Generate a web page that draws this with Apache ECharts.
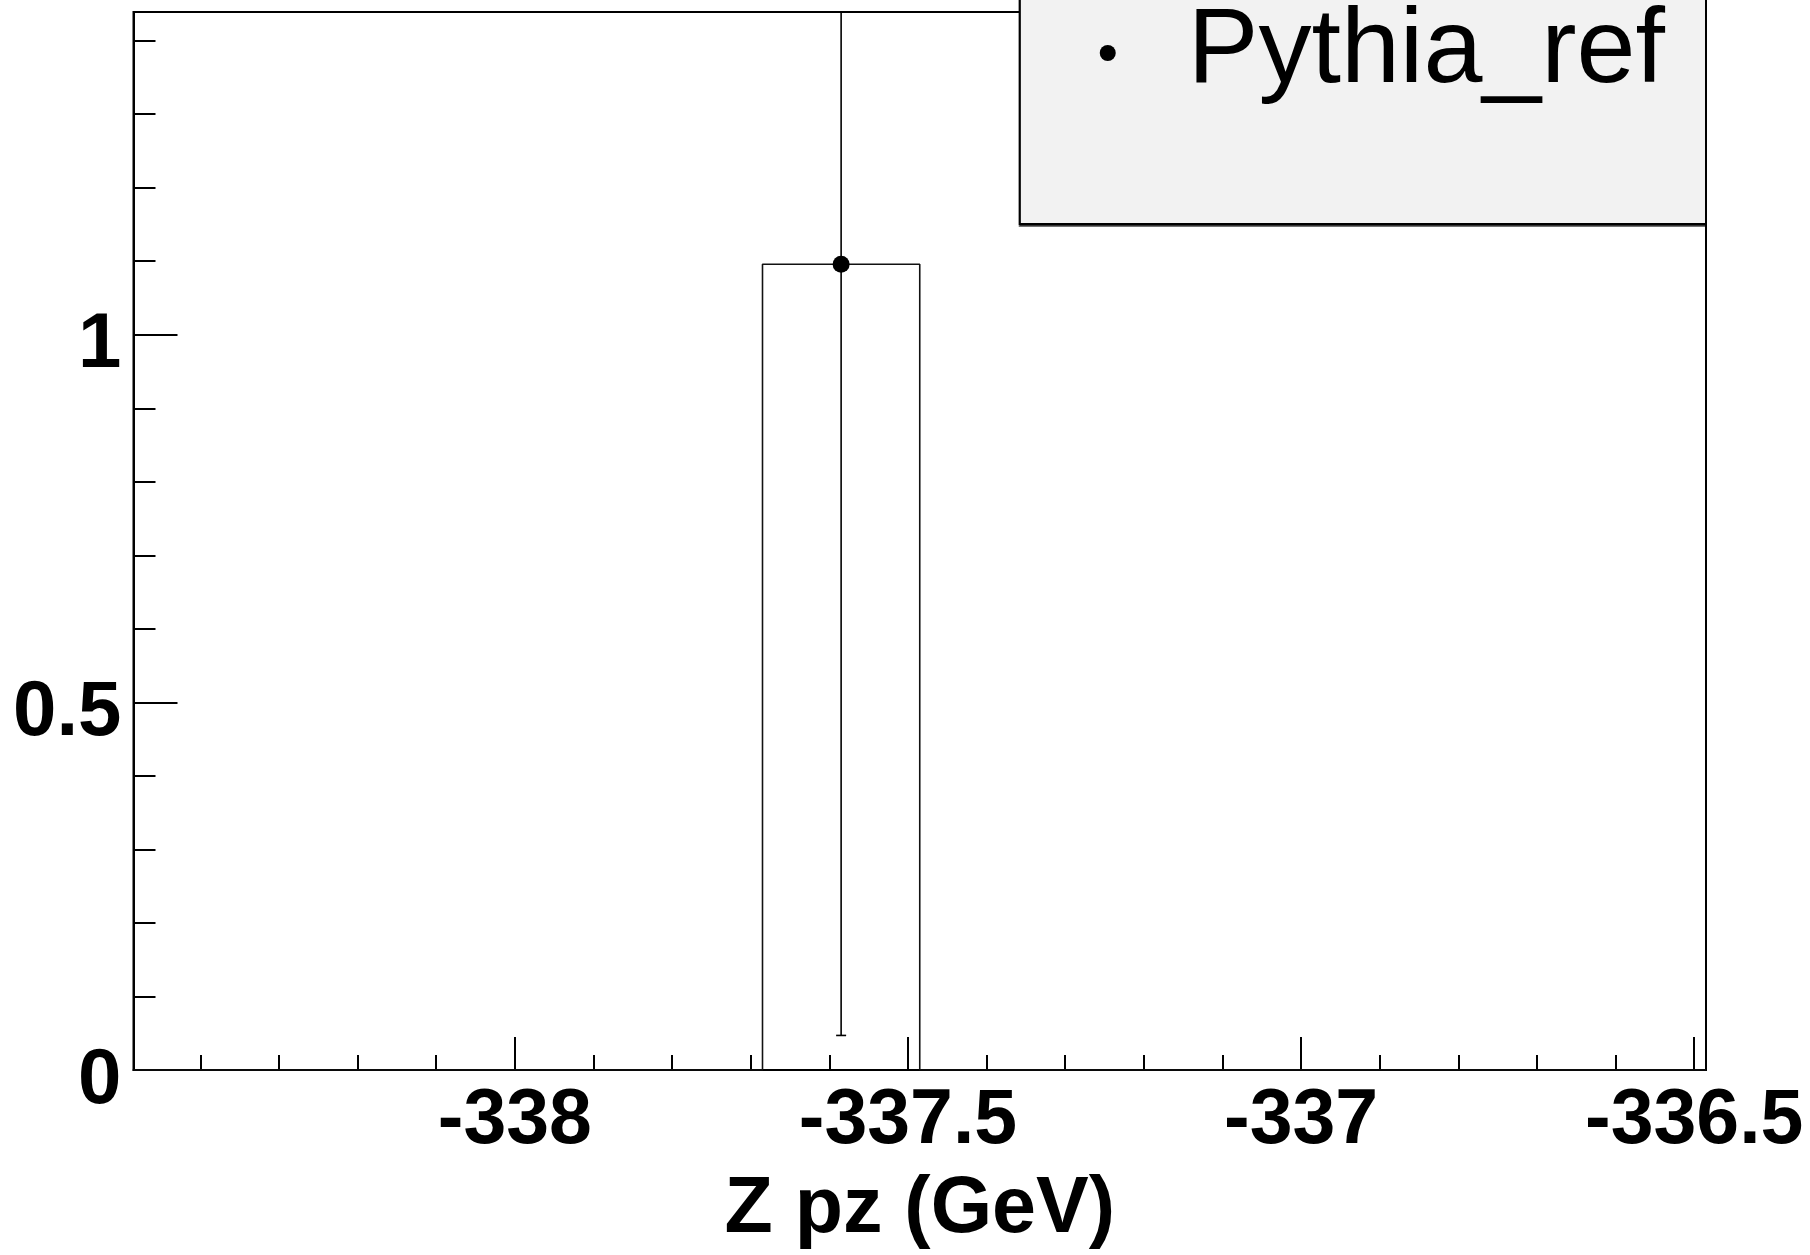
<!DOCTYPE html>
<html>
<head>
<meta charset="utf-8">
<script src="https://cdn.jsdelivr.net/npm/echarts@6/dist/echarts.min.js"></script>
<style>
html,body{margin:0;padding:0;background:#fff;}
#chart{width:1810px;height:1255px;}
</style>
</head>
<body>
<div id="chart"></div>
<script>
// Histogram bin edges (GeV) and contents
const binEdges = [-338.485, -338.285, -338.085, -337.885, -337.685, -337.485, -337.285, -337.085, -336.885, -336.685, -336.485];
const binCounts = [0, 0, 0, 0, 1.096, 0, 0, 0, 0, 0];
const binErrors = [0, 0, 0, 0, 1.049, 0, 0, 0, 0, 0];
const seriesName = 'Pythia_ref';
const xTitle = 'Z pz (GeV)';
const xMajorTicks = [-338, -337.5, -337, -336.5];
const xMinorTicks = [-338.4, -338.3, -338.2, -338.1, -338, -337.9, -337.8, -337.7, -337.6, -337.5, -337.4, -337.3, -337.2, -337.1, -337, -336.9, -336.8, -336.7, -336.6, -336.5];
const yMajorTicks = [0, 0.5, 1];
const yMinorTicks = [0.1, 0.2, 0.3, 0.4, 0.5, 0.6, 0.7, 0.8, 0.9, 1, 1.1, 1.2, 1.3, 1.4];
const xMin = -338.485, xMax = -336.485, yMin = 0, yMax = 1.439;

// build histogram outline and point data from arrays
const outline = [];
const points = [];
for (let i = 0; i < binCounts.length; i++) {
  outline.push([binEdges[i], binCounts[i]]);
  outline.push([binEdges[i + 1], binCounts[i]]);
  if (binCounts[i] > 0) {
    points.push([(binEdges[i] + binEdges[i + 1]) / 2, binCounts[i], binErrors[i]]);
  }
}

const FONT = 'Liberation Sans, Arial, Helvetica, sans-serif';
const chart = echarts.init(document.getElementById('chart'), null, {renderer: 'canvas'});
chart.setOption({
  animation: false,
  backgroundColor: '#ffffff',
  grid: {
    left: 133.5, right: 104, top: 12, bottom: 184.5,
    show: true, borderColor: '#000', borderWidth: 2, backgroundColor: 'transparent'
  },
  legend: {
    show: true,
    data: [{name: seriesName, icon: 'circle'}],
    right: 104,
    top: -50,
    orient: 'vertical',
    padding: [50, 41, 118, 80],
    itemWidth: 16,
    itemHeight: 16,
    symbolKeepAspect: true,
    backgroundColor: '#f2f2f2',
    borderColor: '#000',
    borderWidth: 2,
    shadowColor: 'rgba(0,0,0,0.55)',
    shadowOffsetX: 0,
    shadowOffsetY: 2,
    shadowBlur: 0,
    selectedMode: false,
    itemStyle: {color: '#000'},
    textStyle: {fontFamily: FONT, fontSize: 106, color: '#000', lineHeight: 106, padding: [0, 0, 0, 67]}
  },
  xAxis: [
    {
      type: 'value', min: xMin, max: xMax, position: 'bottom',
      axisLine: {show: true, onZero: false, lineStyle: {color: '#000', width: 2}},
      axisTick: {show: true, inside: true, length: 33, customValues: xMajorTicks, lineStyle: {color: '#000', width: 2}},
      axisLabel: {show: true, customValues: xMajorTicks, margin: 13, fontFamily: FONT, fontWeight: 'bold', fontSize: 77, color: '#000'},
      splitLine: {show: false},
      name: xTitle, nameLocation: 'middle', nameGap: 101,
      nameTextStyle: {fontFamily: FONT, fontWeight: 'bold', fontSize: 79, color: '#000'}
    },
    {
      type: 'value', min: xMin, max: xMax, position: 'bottom',
      axisLine: {show: false},
      axisTick: {show: true, inside: true, length: 15, customValues: xMinorTicks, lineStyle: {color: '#000', width: 2}},
      axisLabel: {show: false},
      splitLine: {show: false}
    }
  ],
  yAxis: [
    {
      type: 'value', min: yMin, max: yMax, position: 'left',
      axisLine: {show: true, onZero: false, lineStyle: {color: '#000', width: 2}},
      axisTick: {show: true, inside: true, length: 44, customValues: yMajorTicks, lineStyle: {color: '#000', width: 2}},
      axisLabel: {
        show: true, customValues: yMajorTicks, margin: 12, color: '#000',
        formatter: '{v|{value}}',
        rich: {v: {fontFamily: FONT, fontWeight: 'bold', fontSize: 78, color: '#000', padding: [22, 0, 0, 0]}}
      },
      splitLine: {show: false}
    },
    {
      type: 'value', min: yMin, max: yMax, position: 'left',
      axisLine: {show: false},
      axisTick: {show: true, inside: true, length: 22, customValues: yMinorTicks, lineStyle: {color: '#000', width: 2}},
      axisLabel: {show: false},
      splitLine: {show: false}
    }
  ],
  series: [
    {
      name: 'hist', type: 'line', xAxisIndex: 0, yAxisIndex: 0,
      data: outline, showSymbol: false, symbol: 'none',
      lineStyle: {color: '#111', width: 1.6}, clip: true, silent: true
    },
    {
      name: 'err', type: 'custom', xAxisIndex: 0, yAxisIndex: 0, clip: true,
      data: points,
      renderItem: function (params, api) {
        const x = api.value(0), y = api.value(1), e = api.value(2);
        const hi = api.coord([x, y + e]);
        const lo = api.coord([x, y - e]);
        const st = {stroke: '#000', lineWidth: 1.6};
        return {
          type: 'group',
          children: [
            {type: 'line', shape: {x1: hi[0], y1: hi[1], x2: lo[0], y2: lo[1]}, style: st},
            {type: 'line', shape: {x1: lo[0] - 5, y1: lo[1], x2: lo[0] + 5, y2: lo[1]}, style: st},
            {type: 'line', shape: {x1: hi[0] - 5, y1: hi[1], x2: hi[0] + 5, y2: hi[1]}, style: st}
          ]
        };
      }
    },
    {
      name: seriesName, type: 'scatter', xAxisIndex: 0, yAxisIndex: 0,
      data: points.map(p => [p[0], p[1]]),
      symbol: 'circle', symbolSize: 17, z: 5,
      itemStyle: {color: '#000', opacity: 1}
    }
  ]
});
</script>
</body>
</html>
